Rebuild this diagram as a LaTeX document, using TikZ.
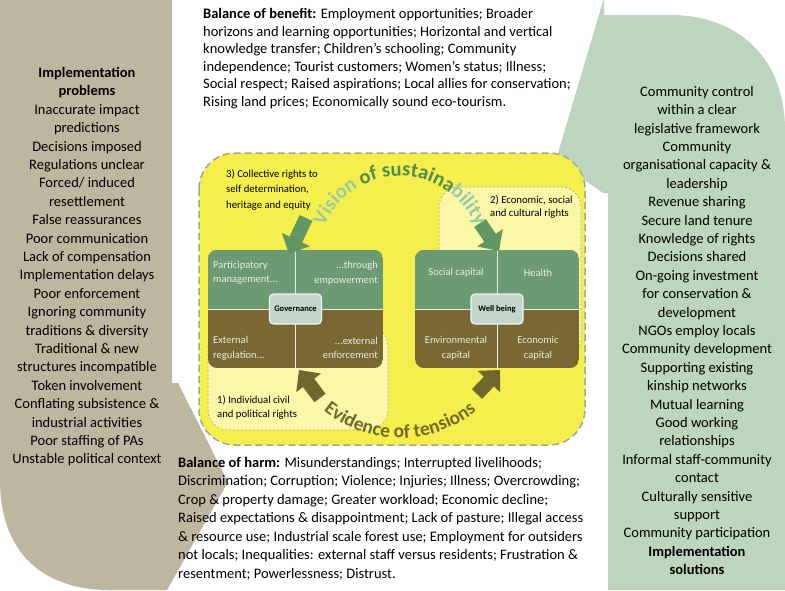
\documentclass[tikz,border=0pt]{standalone}
\usepackage{fontspec}
\setmainfont{Carlito}
\usetikzlibrary{positioning,arrows.meta,decorations.text}

\definecolor{taupe}{RGB}{189,183,160}
\definecolor{sage}{RGB}{189,212,189}
\definecolor{lemon}{RGB}{244,239,76}
\definecolor{palelemon}{RGB}{250,247,168}
\definecolor{cellgreen}{RGB}{108,154,115}
\definecolor{cellbrown}{RGB}{122,104,52}
\definecolor{hubfill}{RGB}{196,213,202}
\definecolor{arrowgreen}{RGB}{98,150,98}
\definecolor{arrowbrown}{RGB}{112,102,46}
\definecolor{visdark}{RGB}{84,140,76}
\definecolor{vislight}{RGB}{150,202,165}
\definecolor{tensions}{RGB}{112,108,44}
\definecolor{dashgrey}{RGB}{165,165,148}
\definecolor{celltext}{RGB}{232,238,226}

\newcommand\visfont{\bfseries\fontsize{20.5}{20.5}\selectfont}
\newcommand\tenfont{\bfseries\fontsize{19.5}{19.5}\selectfont}

\begin{document}
\begin{tikzpicture}[x=1pt,y=-1pt,
  listtext/.style={align=center,inner sep=0pt,font=\fontsize{14.5}{18.4}\selectfont},
  balance/.style={align=left,anchor=north west,inner sep=0pt,font=\fontsize{14.5}{17.6}\selectfont},
  rights/.style={align=left,anchor=north west,inner sep=0pt,font=\fontsize{10.7}{14.5}\selectfont},
  pale/.style={fill=palelemon,draw=dashgrey,line width=0.6pt,dash pattern=on 2pt off 2pt,rounded corners=20pt},
  cellfont/.style={inner sep=0pt,text=celltext,font=\fontsize{10.5}{14.5}\selectfont},
  hub/.style={draw=white!75!hubfill,line width=1.2pt,fill=hubfill,rounded corners=4pt,
    minimum width=52pt,minimum height=30pt,font=\bfseries\fontsize{8.5}{10}\selectfont},
  fat/.style={line width=14pt,-{Triangle[width=30pt,length=16pt]}}]

  \useasboundingbox (0,0) rectangle (785,590);
  \fill[white] (0,0) rectangle (785,590);

  % the two bent arrows at the sides
  \fill[taupe] (0,0) -- (172,0) -- (172,383) -- (178,383) -- (228,482) -- (167,590)
    -- (110,590) .. controls (40,590) and (0,550) .. (0,480) -- cycle;
  \fill[sage] (556,160) -- (604,-2) -- (604,15) -- (670,15)
    .. controls (740,15) and (785,60) .. (785,130) -- (785,590) -- (608,590)
    -- (608,193) -- (603,193) -- cycle;

  % central panel
  \filldraw[fill=lemon,draw=dashgrey,line width=1.5pt,dash pattern=on 7pt off 4pt,
    rounded corners=36pt] (199,153) rectangle (585,445);
  \filldraw[pale] (208,326) rectangle (388,430);
  \filldraw[pale] (439,187) rectangle (581,358);

  % the two four-cell grids
  \foreach \xa/\xb in {208/383,415/579}{
    \begin{scope}
      \clip[rounded corners=9pt] (\xa,250) rectangle (\xb,368);
      \fill[cellbrown] (\xa,250) rectangle (\xb,368);
      \fill[cellgreen] (\xa,250) rectangle (\xb,309);
    \end{scope}
    \draw[celltext,line width=0.8pt] ({(\xa+\xb)/2},250) -- ({(\xa+\xb)/2},368)
      (\xa,309) -- (\xb,309);
  }

  \node(partic)[cellfont,align=left,anchor=west] at (213,273) {Participatory\\management...};
  \node(empower)[cellfont,align=right,anchor=east] at (378,273) {...through\\empowerment};
  \node(extreg)[cellfont,align=left,anchor=west] at (213,348) {External\\regulation...};
  \node(extenf)[cellfont,align=right,anchor=east] at (378,348) {...external\\enforcement};
  \node(social)[cellfont] at (456,273) {Social capital};
  \node(health)[cellfont] at (538,273) {Health};
  \node(envcap)[cellfont,align=center] at (456,348) {Environmental\\capital};
  \node(ecocap)[cellfont,align=center] at (538,348) {Economic\\capital};

  \node(gov)[hub] at (295.5,309) {Governance};
  \node(wellbeing)[hub] at (497,309) {Well being};

  \node(collective)[rights,font=\fontsize{10.7}{15.5}\selectfont] at (226,169)
    {3) Collective rights to\\self determination,\\heritage and equity};
  \node(economic)[rights,font=\fontsize{10.7}{13.5}\selectfont] at (490,195)
    {2) Economic, social\\and cultural rights};
  \node(civil)[rights,font=\fontsize{10.7}{14}\selectfont] at (217,395)
    {1) Individual civil\\and political rights};

  % block arrows
  \coordinate(glt) at (306,218);
  \coordinate(glh) at (289,254);
  \coordinate(grt) at (480,223);
  \coordinate(grh) at (499,251);
  \coordinate(blt) at (320,398);
  \coordinate(blh) at (299,370);
  \coordinate(brt) at (477,394);
  \coordinate(brh) at (500,370);
  \draw[fat,arrowgreen](glt) -- (glh);
  \draw[fat,arrowgreen](grt) -- (grh);
  \draw[fat,arrowbrown](blt) -- (blh);
  \draw[fat,arrowbrown](brt) -- (brh);

  % curved titles
  \coordinate(visstart) at (322.9,229.9);
  \path[decorate,decoration={text along path,text align=center,
    text={|\visfont\color{vislight}|Vision |\visfont\color{visdark}|of sustaina|\visfont\color{vislight}|bility}}]
    (visstart) arc[start angle=200,end angle=340,radius=82];
  \coordinate(tenstart) at (313.7,401.4);
  \path[decorate,decoration={text along path,text align=center,
    text={|\tenfont\color{tensions}|Evidence of tensions}}]
    (tenstart) arc[start angle=136,end angle=44,radius=120];

  % balance texts
  \node(benefit)[balance] at (203,8)
    {\textbf{Balance of benefit:} Employment opportunities; Broader\\
     horizons and learning opportunities; Horizontal and vertical\\
     knowledge transfer; Children’s schooling; Community\\
     independence; Tourist customers; Women’s status; Illness;\\
     Social respect; Raised aspirations; Local allies for conservation;\\
     Rising land prices; Economically sound eco-tourism.};
  \node(harm)[balance,font=\fontsize{14.5}{18.5}\selectfont] at (178,457)
    {\textbf{Balance of harm:} Misunderstandings; Interrupted livelihoods;\\
     Discrimination; Corruption; Violence; Injuries; Illness; Overcrowding;\\
     Crop \& property damage; Greater workload; Economic decline;\\
     Raised expectations \& disappointment; Lack of pasture; Illegal access\\
     \& resource use; Industrial scale forest use; Employment for outsiders\\
     not locals; Inequalities: external staff versus residents; Frustration \&\\
     resentment; Powerlessness; Distrust.};

  % side lists
  \node(problems)[listtext,anchor=north] at (87,67)
    {\textbf{Implementation}\\\textbf{problems}\\Inaccurate impact\\predictions\\
     Decisions imposed\\Regulations unclear\\Forced/ induced\\resettlement\\
     False reassurances\\Poor communication\\Lack of compensation\\
     Implementation delays\\Poor enforcement\\Ignoring community\\
     traditions \& diversity\\Traditional \& new\\structures incompatible\\
     Token involvement\\Conflating subsistence \&\\industrial activities\\
     Poor staffing of PAs\\Unstable political context};
  \node(solutions)[listtext,anchor=north] at (697,86)
    {Community control\\within a clear\\legislative framework\\Community\\
     organisational capacity \&\\leadership\\Revenue sharing\\Secure land tenure\\
     Knowledge of rights\\Decisions shared\\On-going investment\\for conservation \&\\
     development\\NGOs employ locals\\Community development\\Supporting existing\\
     kinship networks\\Mutual learning\\Good working\\relationships\\
     Informal staff-community\\contact\\Culturally sensitive\\support\\
     Community participation\\\textbf{Implementation}\\\textbf{solutions}};
\end{tikzpicture}
\end{document}
